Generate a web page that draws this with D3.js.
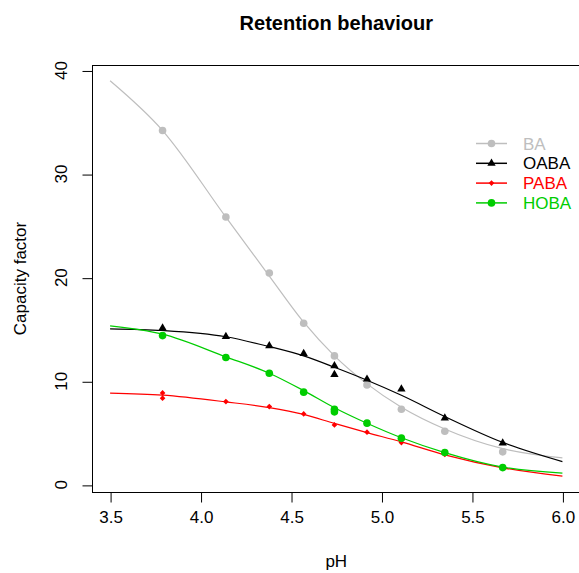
<!DOCTYPE html>
<html>
<head>
<meta charset="utf-8">
<script src="https://cdn.jsdelivr.net/npm/d3@7"></script>
<style>
  html, body { margin: 0; padding: 0; background: #ffffff; }
  svg { display: block; }
  text { font-family: "Liberation Sans", Arial, Helvetica, sans-serif; }
</style>
</head>
<body>
<script>
// ---- Data ----
const seriesNames = ["BA", "OABA", "PABA", "HOBA"];
const seriesColors = ["#BEBEBE", "#000000", "#FF0000", "#00CD00"];
const seriesShapes = ["circle", "triangle", "diamond", "circle"];

// measured points
const phBA   = [3.79, 4.14, 4.38, 4.57, 4.74, 4.92, 5.11, 5.35, 5.67];
const kBA    = [34.2, 25.85, 20.45, 15.6, 12.45, 9.65, 7.3, 5.18, 3.19];
const phOABA = [3.79, 4.14, 4.38, 4.57, 4.74, 4.74, 4.92, 5.11, 5.35, 5.67];
const kOABA  = [15.13, 14.31, 13.42, 12.67, 11.49, 10.65, 10.2, 9.24, 6.44, 4.03];
const phPABA = [3.79, 3.79, 4.14, 4.38, 4.57, 4.74, 4.92, 5.11, 5.35, 5.67];
const kPABA  = [8.88, 8.37, 8.04, 7.56, 6.85, 5.79, 5.09, 4.08, 2.93, 1.71];
const phHOBA = [3.79, 4.14, 4.38, 4.57, 4.74, 4.74, 4.92, 5.11, 5.35, 5.67];
const kHOBA  = [14.41, 12.29, 10.78, 8.95, 7.3, 7.05, 5.96, 4.51, 3.12, 1.67];

// fitted curves
const phFit   = [3.5, 3.79, 4.14, 4.38, 4.57, 4.74, 4.92, 5.11, 5.35, 5.67, 6.0];
const fitBA   = [39.0, 34.2, 25.84, 20.15, 15.7, 12.45, 9.75, 7.5, 5.4, 3.5, 2.6];
const fitOABA = [15.06, 14.9, 14.3, 13.35, 12.45, 11.35, 10.1, 8.65, 6.6, 4.1, 2.25];
const fitPABA = [8.85, 8.66, 8.01, 7.46, 6.8, 5.93, 5.05, 4.15, 2.9, 1.65, 0.84];
const fitHOBA = [15.35, 14.55, 12.36, 10.78, 9.1, 7.45, 5.95, 4.55, 3.12, 1.72, 1.13];

const xTicks = [3.5, 4.0, 4.5, 5.0, 5.5, 6.0];
const xTickLabels = ["3.5", "4.0", "4.5", "5.0", "5.5", "6.0"];
const yTicks = [0, 10, 20, 30, 40];
const yTickLabels = ["0", "10", "20", "30", "40"];

const titleText = "Retention behaviour";
const xLabel = "pH";
const yLabel = "Capacity factor";

// ---- Layout ----
const W = 579, H = 573;
const mLeft = 92, mRight = 580.5, mTop = 65, mBottom = 492;

const pts = [[phBA, kBA], [phOABA, kOABA], [phPABA, kPABA], [phHOBA, kHOBA]];
const fits = [fitBA, fitOABA, fitPABA, fitHOBA];

// R-style 4% axis padding
const xr = d3.extent(phFit);
const allY = fits.flat().concat(pts.flatMap(p => p[1]));
const yr = d3.extent(allY);
const xPad = (xr[1] - xr[0]) * 0.04, yPad = (yr[1] - yr[0]) * 0.04;

const x = d3.scaleLinear().domain([xr[0] - xPad, xr[1] + xPad]).range([mLeft, mRight]);
const y = d3.scaleLinear().domain([yr[0] - yPad, yr[1] + yPad]).range([mBottom, mTop]);

const svg = d3.select("body").append("svg").attr("width", W).attr("height", H);

// box
svg.append("rect")
  .attr("x", mLeft + 0.5).attr("y", mTop + 0.5)
  .attr("width", mRight - mLeft).attr("height", mBottom - mTop)
  .attr("fill", "none").attr("stroke", "#000").attr("stroke-width", 1);

// x axis
const xAxis = d3.axisBottom(x).tickValues(xTicks).tickFormat((d, i) => xTickLabels[i]).tickSize(10).tickPadding(8);
const gx = svg.append("g").attr("transform", `translate(0.5,${mBottom + 0.5})`).call(xAxis);
gx.select(".domain").remove();
gx.selectAll("text").attr("font-size", 17).attr("fill", "#000")
  .attr("font-family", "Liberation Sans, Arial, sans-serif");

// y axis
const yAxis = d3.axisLeft(y).tickValues(yTicks).tickFormat((d, i) => yTickLabels[i]).tickSize(10);
const gy = svg.append("g").attr("transform", `translate(${mLeft + 0.5},0.5)`).call(yAxis);
gy.select(".domain").remove();
gy.selectAll("text").remove();
yTicks.forEach((t, i) => {
  svg.append("text")
    .attr("transform", `translate(67,${y(t)}) rotate(-90)`)
    .attr("text-anchor", "middle")
    .attr("font-size", 17)
    .text(yTickLabels[i]);
});

// titles
svg.append("text").attr("x", (mLeft + mRight) / 2).attr("y", 30)
  .attr("text-anchor", "middle").attr("font-size", 20).attr("font-weight", "bold")
  .text(titleText);
svg.append("text").attr("x", (mLeft + mRight) / 2).attr("y", 567)
  .attr("text-anchor", "middle").attr("font-size", 17).text(xLabel);
svg.append("text").attr("transform", `translate(26,${(mTop + mBottom) / 2}) rotate(-90)`)
  .attr("text-anchor", "middle").attr("font-size", 17).text(yLabel);

// markers
function marker(g, shape, color, cx, cy) {
  if (shape === "circle") {
    g.append("circle").attr("cx", cx).attr("cy", cy).attr("r", 3.8).attr("fill", color);
  } else if (shape === "triangle") {
    g.append("path").attr("d", d3.symbol(d3.symbolTriangle, 30)())
      .attr("transform", `translate(${cx},${cy})`).attr("fill", color);
  } else {
    g.append("path").attr("d", d3.symbol(d3.symbolSquare, 16)())
      .attr("transform", `translate(${cx},${cy}) rotate(45)`).attr("fill", color);
  }
}

const line = d3.line().x(d => x(d[0])).y(d => y(d[1])).curve(d3.curveMonotoneX);

seriesNames.forEach((name, s) => {
  const g = svg.append("g");
  const [px, py] = pts[s];
  px.forEach((v, i) => marker(g, seriesShapes[s], seriesColors[s], x(v), y(py[i])));
  g.append("path")
    .datum(phFit.map((v, i) => [v, fits[s][i]]))
    .attr("d", line)
    .attr("fill", "none").attr("stroke", seriesColors[s]).attr("stroke-width", 1.2);
});

// legend
const lgX0 = 476, lgX1 = 507, lgTextX = 523, lgY0 = 143.5, lgDy = 19.8;
seriesNames.forEach((name, s) => {
  const ly = lgY0 + s * lgDy;
  const g = svg.append("g");
  g.append("line").attr("x1", lgX0).attr("x2", lgX1).attr("y1", ly).attr("y2", ly)
    .attr("stroke", seriesColors[s]).attr("stroke-width", 1.5);
  marker(g, seriesShapes[s], seriesColors[s], (lgX0 + lgX1) / 2, ly);
  g.append("text").attr("x", lgTextX).attr("y", ly + 6)
    .attr("font-size", 17).attr("fill", seriesColors[s]).text(name);
});
</script>
</body>
</html>
